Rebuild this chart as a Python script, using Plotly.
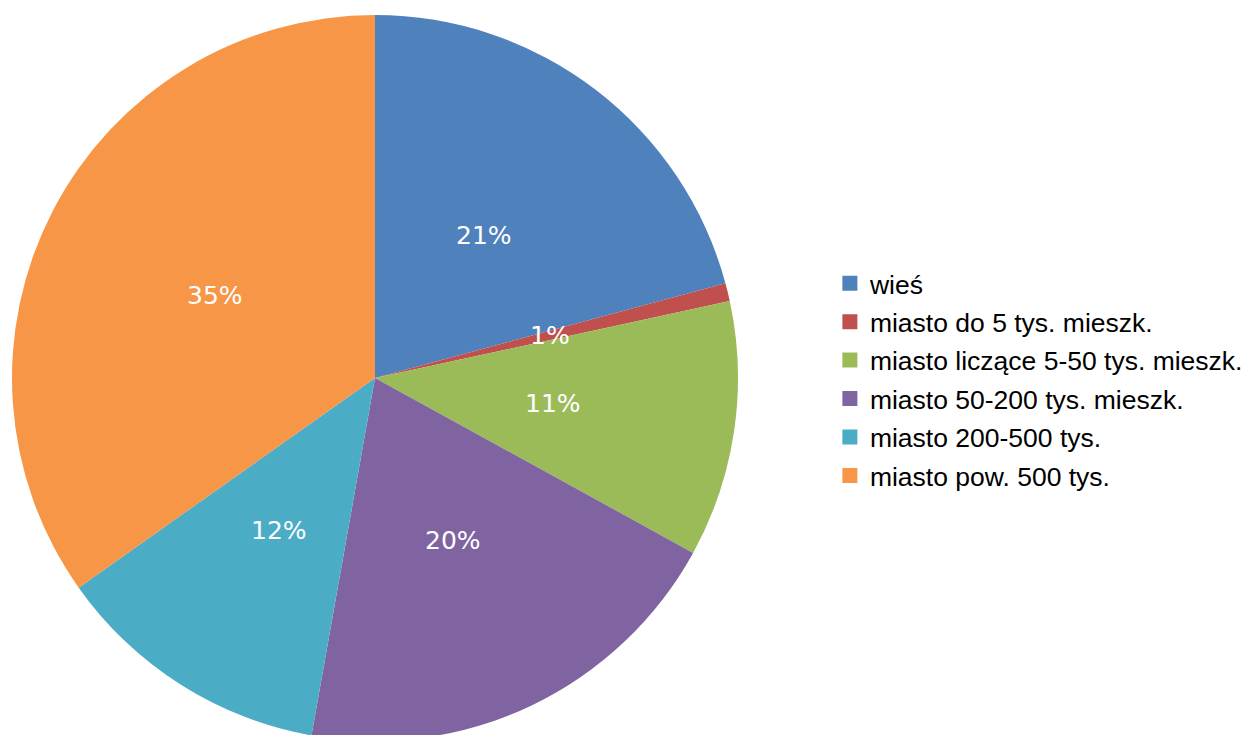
import math
import plotly.graph_objects as go

categories = ["wieś", "miasto do 5 tys. mieszk.", "miasto liczące 5-50 tys. mieszk.",
              "miasto 50-200 tys. mieszk.", "miasto 200-500 tys.", "miasto pow. 500 tys."]
values = [20.8, 0.8, 11.4, 19.8, 12.4, 34.8]
colors = ["#4F81BD", "#C0504D", "#9BBB59", "#8064A2", "#4BACC6", "#F79646"]

W, H = 1250, 735
mt, mb = 7, 2
plot_h = H - mt - mb
R = plot_h / 2
cx_px = 367

fig = go.Figure()
fig.add_trace(go.Pie(
    labels=categories, values=values, sort=False, direction="clockwise", rotation=0,
    marker=dict(colors=colors, line=dict(width=0)), textinfo="none", hoverinfo="label+percent",
    showlegend=False, domain=dict(x=[0, 2 * cx_px / W], y=[0, 1]),
))

# percentage labels at half radius, mid-angle of each slice
total = sum(values)
cum = 0
for v in values:
    mid = (cum + v / 2) / total * 2 * math.pi
    cum += v
    x = (cx_px + 0.496 * R * math.sin(mid)) / W
    y = 0.5 + 0.496 * R * math.cos(mid) / plot_h
    fig.add_annotation(x=x, y=y, xref="paper", yref="paper", xanchor="center", yanchor="middle",
                       text=f"{round(v / total * 100)}%", showarrow=False,
                       font=dict(family="DejaVu Sans", size=25, color="white"))

# legend entries
for c, col in zip(categories, colors):
    fig.add_trace(go.Scatter(x=[None], y=[None], mode="markers", name=c, legendgroup=c,
                             marker=dict(symbol="square", size=15, color=col)))

fig.update_layout(
    width=W, height=H, margin=dict(l=0, r=0, t=mt, b=mb),
    paper_bgcolor="white", plot_bgcolor="white",
    xaxis=dict(visible=False), yaxis=dict(visible=False),
    legend=dict(x=0.6575, y=0.498, xanchor="left", yanchor="middle",
                font=dict(family="Liberation Sans", size=26.5, color="black"),
                tracegroupgap=1, itemwidth=30, bgcolor="rgba(0,0,0,0)"),
)

fig.write_html("out.html")
